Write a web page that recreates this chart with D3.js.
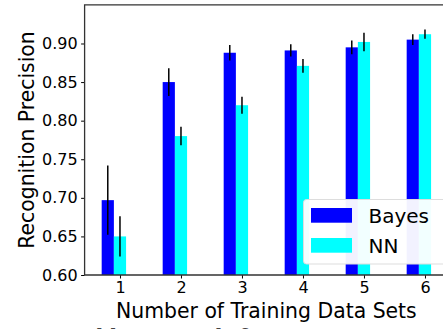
<!DOCTYPE html>
<html>
<head>
<meta charset="utf-8">
<script src="https://cdn.jsdelivr.net/npm/d3@7"></script>
<style>
  body { margin: 0; background: #fff; overflow: hidden; }
  svg { display: block; font-family: "DejaVu Sans", sans-serif; }
</style>
</head>
<body>
<svg id="chart" width="443" height="329"></svg>
<script>
const categories = [1, 2, 3, 4, 5, 6];
const bayes = [0.697, 0.850, 0.888, 0.891, 0.895, 0.905];
const bayesErr = [0.045, 0.018, 0.010, 0.008, 0.009, 0.007];
const nn = [0.650, 0.780, 0.820, 0.871, 0.902, 0.912];
const nnErr = [0.026, 0.012, 0.011, 0.009, 0.012, 0.006];
const yTicks = [0.60, 0.65, 0.70, 0.75, 0.80, 0.85, 0.90];
const seriesNames = ["Bayes", "NN"];
const colors = ["#0000ff", "#00ffff"];

const svg = d3.select("#chart");
const plotLeft = 84.6, plotBottom = 275, plotTop = 4.9;
const pxPerUnit = 61;

const x = d3.scaleLinear().domain([0.42, 6.38]).range([plotLeft, plotLeft + 5.96 * pxPerUnit]);
const y = d3.scaleLinear().domain([0.6, 0.95]).range([plotBottom, plotTop]);
const barW = 0.2;

const series = [
  { name: seriesNames[0], vals: bayes, err: bayesErr, off: -0.3, color: colors[0] },
  { name: seriesNames[1], vals: nn, err: nnErr, off: -0.1, color: colors[1] }
];

// bars
series.forEach(s => {
  svg.append("g").selectAll("rect")
    .data(categories)
    .join("rect")
    .attr("x", (d) => x(d + s.off))
    .attr("width", x(barW) - x(0))
    .attr("y", (d, i) => y(s.vals[i]))
    .attr("height", (d, i) => plotBottom - y(s.vals[i]))
    .attr("fill", s.color);
});

// error bars
series.forEach(s => {
  svg.append("g").selectAll("line")
    .data(categories)
    .join("line")
    .attr("x1", (d) => x(d + s.off + barW / 2))
    .attr("x2", (d) => x(d + s.off + barW / 2))
    .attr("y1", (d, i) => y(s.vals[i] - s.err[i]))
    .attr("y2", (d, i) => y(s.vals[i] + s.err[i]))
    .attr("stroke", "#000")
    .attr("stroke-width", 1.5);
});

// axes
const xAxis = d3.axisBottom(x).tickValues(categories).tickSize(3.5).tickPadding(3.5).tickFormat(d3.format("d"));
const yAxis = d3.axisLeft(y).tickValues(yTicks).tickSize(3.5).tickPadding(3.5).tickFormat(d3.format(".2f"));

const gx = svg.append("g")
  .attr("transform", `translate(0, ${plotBottom})`)
  .call(xAxis);
gx.select(".domain").remove();
gx.selectAll(".tick line").attr("stroke", "#000").attr("stroke-width", 1);
gx.selectAll(".tick text").attr("font-size", 16).attr("font-family", "DejaVu Sans").attr("fill", "#000");

const gy = svg.append("g")
  .attr("transform", `translate(${plotLeft}, 0)`)
  .call(yAxis);
gy.select(".domain").remove();
gy.selectAll(".tick line").attr("stroke", "#000").attr("stroke-width", 1);
gy.selectAll(".tick text").attr("font-size", 16).attr("font-family", "DejaVu Sans").attr("fill", "#000");

// spines
const xr = x.range()[1];
svg.append("path")
  .attr("d", `M${plotLeft},${plotBottom}H${xr}V${plotTop}H${plotLeft}Z`)
  .attr("fill", "none")
  .attr("stroke", "#333")
  .attr("stroke-width", 1.3);

// legend
const lg = svg.append("g");
lg.append("rect")
  .attr("x", 303.5).attr("y", 199.5)
  .attr("width", 160).attr("height", 64.5)
  .attr("rx", 3)
  .attr("fill", "#fff")
  .attr("fill-opacity", 0.95)
  .attr("stroke", "#ddd")
  .attr("stroke-width", 1);
series.forEach((s, i) => {
  lg.append("rect")
    .attr("x", 311).attr("y", 208 + i * 30)
    .attr("width", 41).attr("height", 14.7)
    .attr("fill", s.color);
  lg.append("text")
    .attr("x", 368.5).attr("y", 222.5 + i * 30)
    .attr("font-size", 20)
    .attr("fill", "#000")
    .text(s.name);
});

// axis labels
svg.append("text")
  .attr("x", (plotLeft + xr) / 2).attr("y", 317.5)
  .attr("text-anchor", "middle")
  .attr("font-size", 20.4)
  .text("Number of Training Data Sets");

svg.append("text")
  .attr("transform", `translate(34.3, 140) rotate(-90)`)
  .attr("text-anchor", "middle")
  .attr("font-size", 20.4)
  .text("Recognition Precision");

// cut-off caption at the very bottom
svg.append("text")
  .attr("x", 42).attr("y", 344.5)
  .attr("font-family", "DejaVu Serif")
  .attr("font-style", "italic")
  .attr("font-size", 23)
  .attr("fill", "#444")
  .text("Tracklet Length for Recognition Precision");
</script>
</body>
</html>
